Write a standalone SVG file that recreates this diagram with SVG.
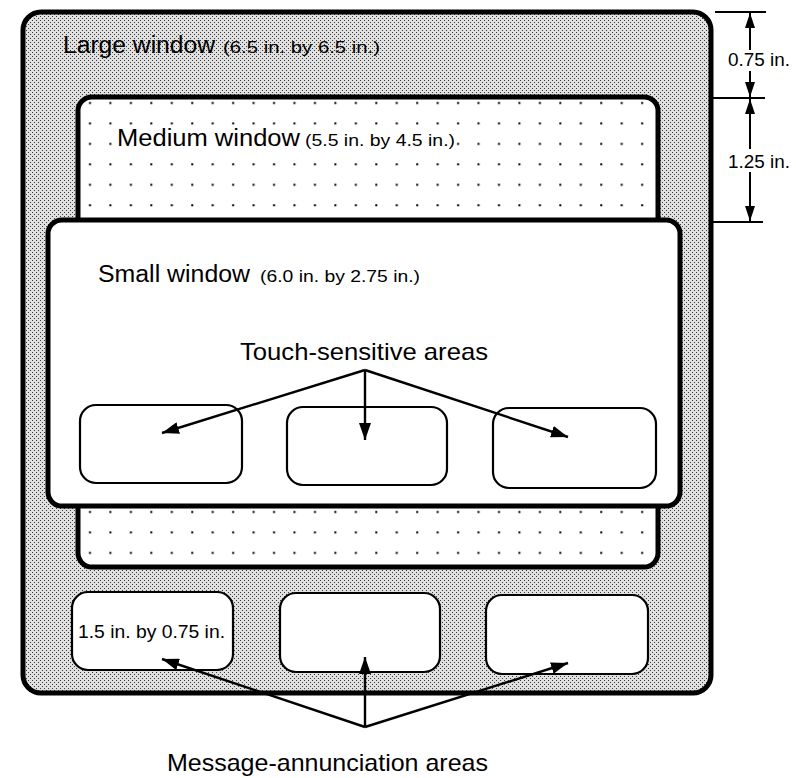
<svg xmlns="http://www.w3.org/2000/svg" width="796" height="778" viewBox="0 0 796 778">
<defs>
  <pattern id="halftone" x="0" y="0" width="4" height="4" patternUnits="userSpaceOnUse">
    <rect width="4" height="4" fill="#e0e0e0"/>
    <rect x="0" y="0" width="1" height="1" fill="#3a3a3a"/>
    <rect x="2" y="2" width="1" height="1" fill="#3a3a3a"/>
  </pattern>
  <pattern id="dots" x="80" y="93" width="20.45" height="20.45" patternUnits="userSpaceOnUse">
    <rect width="20.45" height="20.45" fill="#fff"/>
    <rect x="9" y="9" width="2" height="2" fill="#000"/>
  </pattern>
  <marker id="arr" viewBox="0 0 17 12" refX="17" refY="6" markerWidth="17" markerHeight="12" markerUnits="userSpaceOnUse" orient="auto">
    <path d="M0,0 L17,6 L0,12 Z" fill="#000"/>
  </marker>
  <marker id="dim" viewBox="0 0 15 10" refX="15" refY="5" markerWidth="15" markerHeight="10" markerUnits="userSpaceOnUse" orient="auto">
    <path d="M0,0 L15,5 L0,10 Z" fill="#000"/>
  </marker>
</defs>
<style>
  .win { stroke: #000; stroke-width: 5; }
  .box { fill: #fff; stroke: #000; stroke-width: 2.2; }
  .big { font-family: "Liberation Sans", Arial, sans-serif; font-size: 23px; fill: #000; }
  .small { font-family: "Liberation Sans", Arial, sans-serif; font-size: 17px; fill: #000; }
  .conn { fill: none; stroke: #000; stroke-width: 2.4; }
  .dimline { fill: none; stroke: #000; stroke-width: 2; }
</style>

<g id="large-window">
  <rect class="win" x="23" y="12" width="688" height="681" rx="18" fill="url(#halftone)"/>
  <text class="big" x="63" y="53" textLength="152" lengthAdjust="spacingAndGlyphs">Large window</text>
  <text class="small" x="223" y="53" textLength="157" lengthAdjust="spacingAndGlyphs">(6.5 in. by 6.5 in.)</text>
</g>

<g id="message-area-1">
  <rect class="box" x="72" y="592" width="161" height="78" rx="16"/>
  <text class="small" x="78" y="638" textLength="147" lengthAdjust="spacingAndGlyphs" style="font-size:18px">1.5 in. by 0.75 in.</text>
</g>
<g id="message-area-2">
  <rect class="box" x="280" y="593" width="160" height="79" rx="16"/>
</g>
<g id="message-area-3">
  <rect class="box" x="486" y="595" width="162" height="79" rx="16"/>
</g>

<g id="medium-window">
  <rect class="win" x="78" y="97" width="580" height="470" rx="14" fill="url(#dots)" stroke-width="4.5"/>
  <rect x="116" y="128" width="339" height="22" fill="#fff"/>
  <text class="big" x="117" y="146" textLength="183" lengthAdjust="spacingAndGlyphs">Medium window</text>
  <text class="small" x="305" y="146" textLength="150" lengthAdjust="spacingAndGlyphs">(5.5 in. by 4.5 in.)</text>
</g>

<g id="small-window">
  <rect class="win" x="48" y="220" width="632" height="286" rx="14" fill="#fff"/>
  <text class="big" x="98" y="282" textLength="152" lengthAdjust="spacingAndGlyphs">Small window</text>
  <text class="small" x="260" y="282" textLength="160" lengthAdjust="spacingAndGlyphs">(6.0 in. by 2.75 in.)</text>
  <text class="big" x="240" y="360" textLength="248" lengthAdjust="spacingAndGlyphs" style="font-size:24px">Touch-sensitive areas</text>
</g>

<g id="touch-area-1">
  <rect class="box" x="80" y="405" width="162" height="78" rx="16"/>
</g>
<g id="touch-area-2">
  <rect class="box" x="287" y="407" width="160" height="78" rx="16"/>
</g>
<g id="touch-area-3">
  <rect class="box" x="493" y="408" width="163" height="80" rx="16"/>
</g>

<g id="annunciation-label">
  <text class="big" x="167" y="771" textLength="321" lengthAdjust="spacingAndGlyphs" style="font-size:24px">Message-annunciation areas</text>
</g>

<g id="dimensions">
  <path class="dimline" d="M715,12 H766 M713,98 H765 M713,222 H763"/>
  <path class="dimline" d="M750,50 V13" marker-end="url(#dim)"/>
  <path class="dimline" d="M750,71 V97" marker-end="url(#dim)"/>
  <path class="dimline" d="M750,149 V99" marker-end="url(#dim)"/>
  <path class="dimline" d="M750,172 V221" marker-end="url(#dim)"/>
  <text class="small" x="728" y="66" textLength="62" lengthAdjust="spacingAndGlyphs" style="font-size:18px">0.75 in.</text>
  <text class="small" x="728" y="168" textLength="62" lengthAdjust="spacingAndGlyphs" style="font-size:18px">1.25 in.</text>
</g>

<g id="connectors">
  <path class="conn" d="M365,370 L162,433" marker-end="url(#arr)"/>
  <path class="conn" d="M365,370 L365,440" marker-end="url(#arr)"/>
  <path class="conn" d="M365,370 L568,437" marker-end="url(#arr)"/>
  <path class="conn" d="M365,727 L162,659" marker-end="url(#arr)"/>
  <path class="conn" d="M365,727 L365,657" marker-end="url(#arr)"/>
  <path class="conn" d="M365,727 L568,663" marker-end="url(#arr)"/>
</g>
</svg>
